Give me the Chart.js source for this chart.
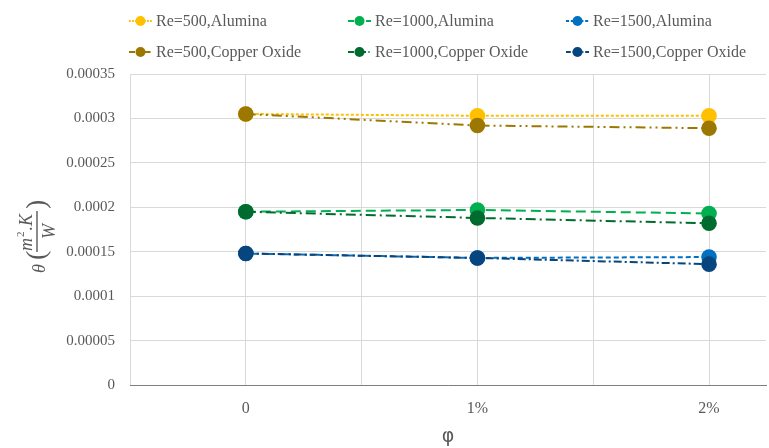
<!DOCTYPE html>
<html>
<head>
<meta charset="utf-8">
<script src="https://cdn.jsdelivr.net/npm/chart.js@4.4.1/dist/chart.umd.min.js"></script>
<style>
  html, body { margin: 0; padding: 0; background: #ffffff; }
  #wrap { width: 769px; height: 448px; }
</style>
</head>
<body>
<div id="wrap"><canvas id="c" width="769" height="448"></canvas></div>
<script>
// Volume fraction categories (x axis)
const categories = ['0', '1%', '2%'];

// Thermal resistance θ (m²·K/W) for each Reynolds number and nanofluid
const re500Alumina = [0.000305, 0.000303, 0.000303];
const re1000Alumina = [0.000195, 0.000197, 0.000193];
const re1500Alumina = [0.000148, 0.000143, 0.000144];
const re500Copper = [0.000305, 0.000292, 0.000289];
const re1000Copper = [0.000195, 0.000188, 0.000182];
const re1500Copper = [0.000148, 0.000143, 0.000136];

// Y axis tick labels, bottom to top
const yTickLabels = ['0', '0.00005', '0.0001', '0.00015', '0.0002', '0.00025', '0.0003', '0.00035'];

const seriesNames = [
  'Re=500,Alumina', 'Re=1000,Alumina', 'Re=1500,Alumina',
  'Re=500,Copper Oxide', 'Re=1000,Copper Oxide', 'Re=1500,Copper Oxide'
];
const seriesValues = [re500Alumina, re1000Alumina, re1500Alumina, re500Copper, re1000Copper, re1500Copper];
const seriesColors = ['#FFC000', '#00B050', '#0070C0', '#9C7800', '#006B2E', '#07457E'];
const seriesDashes = [[3, 2], [10, 5], [5, 3], [10, 4, 2, 4, 2, 4], [10, 4, 2, 4], [8, 3, 2, 3]];

const datasets = seriesValues.map((vals, i) => ({
  label: seriesNames[i],
  data: vals.map((v, k) => ({ x: k, y: v })),
  borderColor: seriesColors[i],
  backgroundColor: seriesColors[i],
  pointBackgroundColor: seriesColors[i],
  pointBorderColor: seriesColors[i],
  pointRadius: 7.8,
  pointHoverRadius: 7.8,
  pointBorderWidth: 0,
  borderWidth: 2,
  borderDash: seriesDashes[i],
  fill: false,
  tension: 0,
  order: i < 3 ? 1 : 0
}));

const FONT = "'Liberation Serif', 'Times New Roman', serif";
const TEXT = '#595959';

// Legend: two rows of three entries
const legendPlugin = {
  id: 'gridLegend',
  afterDraw(chart) {
    const ctx = chart.ctx;
    const cols = [129, 348, 566];
    const rows = [21, 52];
    chart.data.datasets.forEach((ds, i) => {
      const sx = cols[i % 3];
      const y = rows[Math.floor(i / 3)];
      ctx.save();
      ctx.strokeStyle = ds.borderColor;
      ctx.lineWidth = 2;
      ctx.setLineDash(ds.borderDash.map(d => d * 0.6));
      ctx.beginPath();
      ctx.moveTo(sx, y);
      ctx.lineTo(sx + 23, y);
      ctx.stroke();
      ctx.setLineDash([]);
      ctx.fillStyle = ds.backgroundColor;
      ctx.beginPath();
      ctx.arc(sx + 11.5, y, 5, 0, Math.PI * 2);
      ctx.fill();
      ctx.fillStyle = TEXT;
      ctx.font = '16px ' + FONT;
      ctx.textBaseline = 'middle';
      ctx.textAlign = 'left';
      ctx.fillText(ds.label, sx + 27, y + 1);
      ctx.restore();
    });
  }
};

// Y axis title: θ (m²·K / W), rotated
const yTitlePlugin = {
  id: 'yFractionTitle',
  afterDraw(chart) {
    const ctx = chart.ctx;
    ctx.save();
    ctx.translate(40, 273);
    ctx.rotate(-Math.PI / 2);
    ctx.fillStyle = TEXT;
    ctx.strokeStyle = TEXT;
    ctx.textBaseline = 'middle';
    ctx.textAlign = 'left';
    ctx.font = 'italic 18px ' + FONT;
    ctx.fillText('θ', 0, 0);
    ctx.font = '28px ' + FONT;
    ctx.fillText('(', 13, -2);
    // numerator
    ctx.font = 'italic 18px ' + FONT;
    ctx.fillText('m', 22, -13);
    ctx.font = '11px ' + FONT;
    ctx.fillText('2', 36, -19);
    ctx.font = '18px ' + FONT;
    ctx.fillText('.', 42, -13);
    ctx.font = 'italic 18px ' + FONT;
    ctx.fillText('K', 47, -13);
    // fraction bar
    ctx.lineWidth = 1.4;
    ctx.beginPath();
    ctx.moveTo(21, -3);
    ctx.lineTo(62, -3);
    ctx.stroke();
    // denominator
    ctx.fillText('W', 34, 10);
    ctx.font = '28px ' + FONT;
    ctx.fillText(')', 64, -2);
    ctx.restore();
  }
};

new Chart(document.getElementById('c'), {
  type: 'line',
  data: { datasets },
  options: {
    responsive: false,
    animation: false,
    layout: { autoPadding: false, padding: { top: 74, right: 3, left: 0, bottom: 0 } },
    plugins: { legend: { display: false }, tooltip: { enabled: false } },
    scales: {
      x: {
        type: 'linear',
        min: -0.5,
        max: 2.246,
        border: { color: '#7f7f7f', width: 1 },
        grid: { color: '#d9d9d9', drawTicks: false, lineWidth: 1 },
        ticks: {
          stepSize: 0.5,
          includeBounds: false,
          padding: 14,
          color: TEXT,
          font: { family: FONT, size: 16 },
          autoSkip: false,
          maxRotation: 0,
          callback: (v) => Number.isInteger(v) && v >= 0 ? categories[v] : ''
        },
        title: {
          display: true,
          text: 'φ',
          color: TEXT,
          font: { family: "'DejaVu Sans', sans-serif", size: 19 },
          padding: { top: 4, bottom: 0 }
        },
        afterFit: (s) => { s.height = 63; }
      },
      y: {
        min: 0,
        max: 0.00035,
        border: { display: false },
        grid: { color: '#d9d9d9', drawTicks: false, lineWidth: 1 },
        ticks: {
          stepSize: 0.00005,
          padding: 15,
          color: TEXT,
          font: { family: FONT, size: 15 },
          callback: (v, idx) => yTickLabels[idx]
        },
        afterFit: (s) => { s.width = 130; }
      }
    }
  },
  plugins: [legendPlugin, yTitlePlugin]
});
</script>
</body>
</html>
